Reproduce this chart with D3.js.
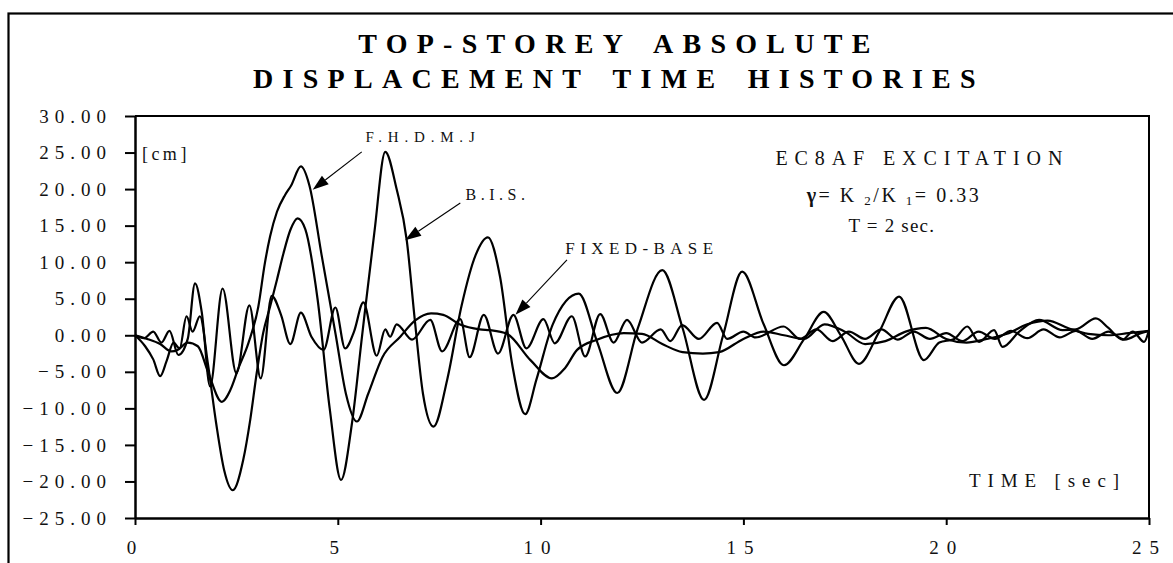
<!DOCTYPE html>
<html><head><meta charset="utf-8">
<script src="https://cdn.jsdelivr.net/npm/d3@7"></script>
<style>
body{margin:0;background:#fff} svg{display:block}
svg text{font-family:"Liberation Serif","Times New Roman",Times,"DejaVu Serif",serif !important;}
</style>
</head><body>
<svg id="c" width="1173" height="563"></svg>
<script>
const xTicks = [0, 5, 10, 15, 20, 25];
const yTicks = [-25, -20, -15, -10, -5, 0, 5, 10, 15, 20, 25, 30];
const titleLines = ["TOP-STOREY ABSOLUTE", "DISPLACEMENT TIME HISTORIES"];

// F.H.D.M.J. series [time sec, displacement cm]
const fhdmj = [[0,0],[0.3,-0.5],[0.62,-1.2],[0.9,-2.2],[1.05,-2.0],[1.3,-1.0],[1.55,-1.5],[1.8,-5],[2.14,-9.1],[2.35,-7.5],[2.55,-4.5],[2.8,-1],[3.04,3.9],[3.2,9.8],[3.33,13.5],[3.5,16.9],[3.7,19.2],[3.85,20.5],[4.09,23.1],[4.3,20.5],[4.6,11],[4.95,0],[5.2,-8],[5.47,-11.8],[5.75,-8],[6.1,-3],[6.54,-0.2],[6.9,2],[7.3,3.0],[7.6,2.8],[8.0,1.5],[8.5,0.8],[8.76,0.7],[9.17,0.2],[9.75,-3.4],[10.28,-5.9],[10.6,-4.5],[10.9,-2.0],[11.39,-0.6],[12.05,0.3],[12.5,0.2],[13.0,-1.2],[13.5,-2.3],[14.0,-2.5],[14.4,-2.3],[15.0,-0.5],[15.5,0.5],[16.0,0],[16.5,-0.5],[17.0,1.5],[17.5,0.5],[18.0,-1.2],[18.5,-0.8],[19.0,0.5],[19.5,1.0],[20.0,-0.5],[20.5,-1.0],[21.0,-0.5],[21.5,0.2],[22.0,1.5],[22.5,2.0],[23.0,1.0],[23.5,0.2],[24.0,0],[24.5,0.3],[25,0.6]];

// B.I.S. series
const bis = [[0,0],[0.25,-1.5],[0.45,-3.3],[0.62,-5.6],[0.78,-3.5],[0.95,-1.0],[1.1,-1.8],[1.27,2.6],[1.42,0.5],[1.6,2.6],[1.8,-4],[2.0,-12],[2.2,-18.5],[2.41,-21.2],[2.67,-17],[2.84,-11.6],[3.0,-5.2],[3.16,0.3],[3.33,3.9],[3.5,7.6],[3.66,11.2],[3.83,14.4],[4.01,16.0],[4.2,14.5],[4.5,5],[4.8,-10],[5.08,-19.8],[5.35,-12],[5.6,0],[5.9,14],[6.17,25.1],[6.45,20],[6.7,13],[6.9,2],[7.1,-8],[7.36,-12.5],[7.7,-6],[8.05,4],[8.4,11],[8.7,13.4],[9.0,8],[9.3,-4],[9.62,-10.8],[9.9,-6],[10.3,1.5],[10.94,5.7],[11.4,-1],[11.89,-7.9],[12.4,1],[13.0,8.9],[13.5,1],[14.03,-8.85],[14.5,0],[14.97,8.7],[15.5,1.5],[16.0,-4.1],[16.5,-0.5],[16.98,3.2],[17.4,0],[17.85,-3.9],[18.35,0.5],[18.84,5.3],[19.45,-3.4],[19.83,-1.0],[20.2,-0.5],[20.52,1.2],[20.81,-0.9],[21.18,0.7],[21.39,-1.6],[21.8,0.5],[22.29,2.1],[22.87,0.7],[23.2,0.8],[23.69,2.3],[24.0,1.0],[24.35,-0.6],[24.6,0.5],[24.88,-0.9],[25,0.7]];

// Fixed-base series
const fixedBase = [[0,0],[0.22,-0.4],[0.45,0.5],[0.65,-1.0],[0.85,0.6],[1.07,-2.7],[1.3,-0.5],[1.48,7.1],[1.65,3],[1.85,-7.0],[2.16,6.4],[2.5,-5.2],[2.82,4.1],[3.1,-5.9],[3.37,5.4],[3.6,2.8],[3.83,-1.2],[4.09,3.1],[4.35,-0.2],[4.65,-2.0],[4.94,3.8],[5.18,-1.8],[5.4,0.5],[5.63,4.5],[5.96,-2.8],[6.17,0.8],[6.29,-0.2],[6.45,1.5],[6.83,-0.6],[7.28,2.1],[7.57,-2.2],[8.02,2.2],[8.25,-3.0],[8.6,2.8],[8.95,-2.5],[9.33,2.8],[9.65,-1.8],[10.07,2.2],[10.35,-1.1],[10.77,2.6],[11.1,-2.9],[11.47,2.9],[11.8,-1.0],[12.13,2.1],[12.5,-1.0],[12.96,0.8],[13.2,-0.8],[13.49,1.4],[13.9,-0.5],[14.35,1.7],[14.6,-0.5],[15.0,0.5],[15.3,-0.3],[15.99,1.2],[16.4,-0.5],[16.8,0.8],[17.2,-0.8],[17.6,0.5],[18.0,-0.5],[18.4,0.8],[18.8,-0.6],[19.2,0.5],[19.6,-0.5],[20.0,0.3],[20.4,-0.8],[20.8,0.5],[21.2,-0.5],[21.6,0.6],[22.0,-0.4],[22.4,0.8],[22.8,-0.3],[23.2,0.6],[23.6,-0.5],[24.0,0.5],[24.4,-0.6],[24.8,0.3],[25,0.6]];

const svg = d3.select("#c");
const x = d3.scaleLinear().domain([0, 25]).range([135, 1149]);
const y = d3.scaleLinear().domain([-25, 30]).range([518, 116]);

// outer frame (only left/top visible)
svg.append("rect").attr("x", 8.5).attr("y", 13.5).attr("width", 1300).attr("height", 700)
  .attr("fill", "none").attr("stroke", "#000").attr("stroke-width", 2.2);

// title
titleLines.forEach((t, i) => {
  svg.append("text").attr("x", 619).attr("y", 53 + i * 35).attr("text-anchor", "middle")
    .attr("font-weight", "bold").attr("font-size", 28)
    .attr("letter-spacing", 9.3).attr("word-spacing", 7).attr("fill", "#000").text(t);
});

// plot frame top & right
svg.append("path").attr("d", `M${x(0)},${y(30)}H${x(25)}V${y(-25)}`)
  .attr("fill", "none").attr("stroke", "#000").attr("stroke-width", 2);

// axes
const gy = svg.append("g").attr("transform", `translate(${x(0)},0)`)
  .call(d3.axisLeft(y).tickValues(yTicks).tickSize(10).tickSizeOuter(0).tickPadding(13).tickFormat(d3.format(".2f")));
const gx = svg.append("g").attr("transform", `translate(0,${y(-25)})`)
  .call(d3.axisBottom(x).tickValues(xTicks).tickSize(7).tickSizeOuter(0).tickPadding(16).tickFormat(d3.format("d")));
[gx, gy].forEach(g => {
  g.attr("font-family", null);
  g.select(".domain").attr("stroke", "#000").attr("stroke-width", 2.5);
  g.selectAll(".tick line").attr("stroke", "#000").attr("stroke-width", 2);
  g.selectAll(".tick text").attr("font-size", 19).attr("fill", "#111");
});
gy.selectAll(".tick text").attr("letter-spacing", 6);
gx.selectAll(".tick text").attr("letter-spacing", 8);

// series lines
const line = d3.line().x(d => x(d[0])).y(d => y(d[1])).curve(d3.curveMonotoneX);
[fhdmj, bis, fixedBase].forEach(s => {
  svg.append("path").datum(s).attr("d", line).attr("fill", "none")
    .attr("stroke", "#000").attr("stroke-width", 2.2).attr("stroke-linejoin", "round");
});

// annotations: [text, t, v, font-size, letter-spacing]
const labels = [
  ["[cm]", 0.17, 24.0, 18, 3.5],
  ["F.H.D.M.J", 5.68, 26.4, 15, 5.8],
  ["B.I.S.", 8.15, 18.5, 16, 4.5],
  ["FIXED-BASE", 10.61, 11.1, 17, 5.4],
  ["EC8AF EXCITATION", 15.79, 23.3, 20, 6.9],
  ["T = 2 sec.", 17.59, 14.1, 19, 1.2],
  ["TIME [sec]", 20.56, -20.8, 19, 6.9]
];
labels.forEach(([t, a, b, fs, ls]) => {
  svg.append("text").attr("x", x(a)).attr("y", y(b)).attr("font-size", fs)
    .attr("letter-spacing", ls).attr("fill", "#111").text(t);
});
// gamma line
const g = svg.append("text").attr("x", x(16.56)).attr("y", y(18.3))
  .attr("font-size", 20).attr("fill", "#111").attr("textLength", 172).attr("lengthAdjust", "spacing");
g.append("tspan").attr("font-weight", "bold").text("γ");
g.append("tspan").text("= K ");
g.append("tspan").attr("font-size", 13).attr("dy", 3).text("2");
g.append("tspan").attr("dy", -3).text("/K ");
g.append("tspan").attr("font-size", 13).attr("dy", 3).text("1");
g.append("tspan").attr("dy", -3).text("= 0.33");

// arrows: [tailT, tailV, tipT, tipV]
const arrows = [[5.59, 25.1, 4.38, 19.9], [8.02, 18.1, 6.66, 13.0], [10.65, 10.3, 9.38, 2.8]];
arrows.forEach(([t0, v0, t1, v1]) => {
  const x0 = x(t0), y0 = y(v0), x1 = x(t1), y1 = y(v1);
  const ang = Math.atan2(y1 - y0, x1 - x0), L = 16, W = 5.5;
  const bx = x1 - L * Math.cos(ang), by = y1 - L * Math.sin(ang);
  svg.append("line").attr("x1", x0).attr("y1", y0).attr("x2", bx).attr("y2", by)
    .attr("stroke", "#000").attr("stroke-width", 1.1);
  const px = -Math.sin(ang) * W, py = Math.cos(ang) * W;
  svg.append("path").attr("d", `M${x1},${y1}L${bx + px},${by + py}L${bx - px},${by - py}Z`).attr("fill", "#000");
});
</script>
</body></html>
